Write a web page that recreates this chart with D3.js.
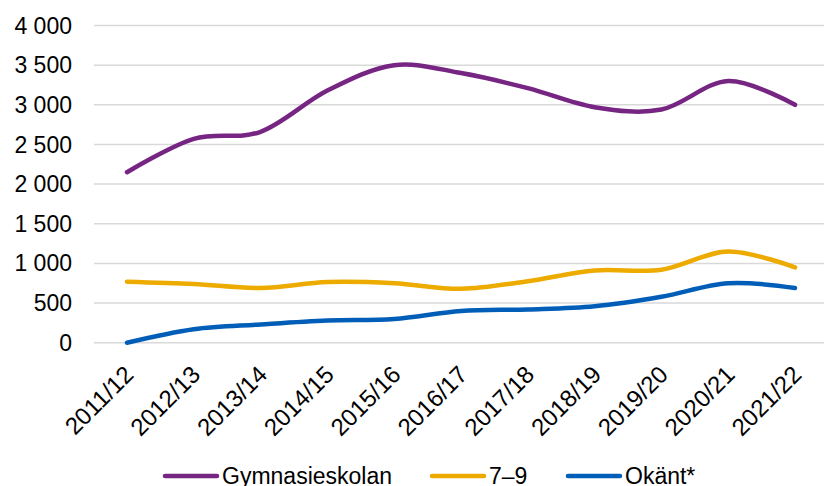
<!DOCTYPE html>
<html>
<meta charset="utf-8">
<head>
<style>
  body { margin: 0; background: #fff; }
  text { font-family: "Liberation Sans", Arial, sans-serif; fill: #000; }
</style>
</head>
<body>
<script src="https://d3js.org/d3.v7.min.js"></script>
<script>
// data
var years = ["2011/12", "2012/13", "2013/14", "2014/15", "2015/16", "2016/17",
             "2017/18", "2018/19", "2019/20", "2020/21", "2021/22"];
var gymnasieskolan = [2150, 2570, 2660, 3180, 3500, 3400, 3210, 2970, 2940, 3300, 3000];
var ak79 = [770, 740, 690, 765, 750, 680, 775, 910, 920, 1150, 950];
var okant = [0, 170, 230, 280, 300, 400, 420, 460, 580, 750, 690];
var yTicks = [0, 500, 1000, 1500, 2000, 2500, 3000, 3500, 4000];

var series = [
  { name: "Gymnasieskolan", values: gymnasieskolan, color: "#772583" },
  { name: "7\u20139", values: ak79, color: "#EDAB00" },
  { name: "Ok\u00e4nt*", values: okant, color: "#005EB8" }
];

var width = 824, height = 486;

var svg = d3.select("body").append("svg")
  .attr("width", width)
  .attr("height", height);

var x = d3.scalePoint().domain(years).range([127, 795]);
var y = d3.scaleLinear().domain([0, 4000]).range([342.7, 25.5]);

// format "4 000"
var fmt = function (d) { return d3.format(",")(d).replace(/,/g, " "); };

// gridlines
svg.append("g")
  .selectAll("line")
  .data(yTicks)
  .join("line")
  .attr("x1", 94).attr("x2", 828)
  .attr("y1", function (d) { return y(d); })
  .attr("y2", function (d) { return y(d); })
  .attr("stroke", "#d9d9d9")
  .attr("stroke-width", 1.5);

// y axis labels
svg.append("g")
  .selectAll("text")
  .data(yTicks)
  .join("text")
  .attr("x", 72)
  .attr("y", function (d) { return y(d); })
  .attr("dy", "0.35em")
  .attr("text-anchor", "end")
  .style("font-size", "23px")
  .text(fmt);

// x axis labels, rotated
svg.append("g")
  .selectAll("text")
  .data(years)
  .join("text")
  .attr("transform", function (d) { return "translate(" + (x(d) + 8) + ",376) rotate(-45)"; })
  .attr("text-anchor", "end")
  .style("font-size", "24px")
  .text(function (d) { return d; });

// lines
var line = d3.line()
  .x(function (d, i) { return x(years[i]); })
  .y(function (d) { return y(d); })
  .curve(d3.curveCardinal.tension(0));

svg.append("g")
  .selectAll("path")
  .data(series)
  .join("path")
  .attr("d", function (s) { return line(s.values); })
  .attr("fill", "none")
  .attr("stroke", function (s) { return s.color; })
  .attr("stroke-width", 4.5)
  .attr("stroke-linecap", "round");

// legend
var legendX = [163, 430, 566];
var lg = svg.append("g")
  .selectAll("g")
  .data(series)
  .join("g")
  .attr("transform", function (s, i) { return "translate(" + legendX[i] + ",476)"; });

lg.append("line")
  .attr("x1", 2).attr("x2", 54)
  .attr("stroke", function (s) { return s.color; })
  .attr("stroke-width", 4.5)
  .attr("stroke-linecap", "round");

lg.append("text")
  .attr("x", 59)
  .attr("dy", "0.35em")
  .style("font-size", "23px")
  .text(function (s) { return s.name; });
</script>
</body>
</html>
